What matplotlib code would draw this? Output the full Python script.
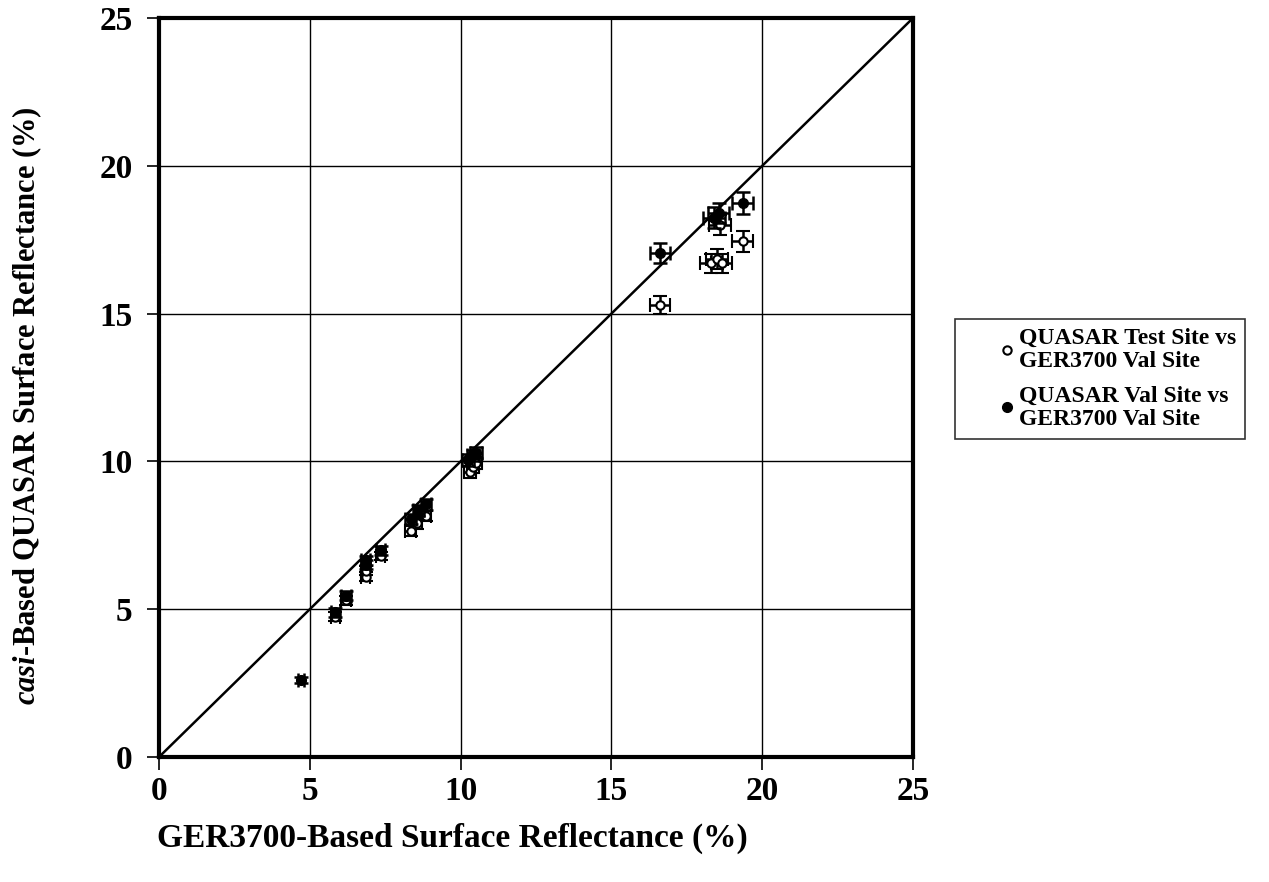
import matplotlib
matplotlib.use('Agg')
from matplotlib import pyplot as plt
from matplotlib.lines import Line2D
from matplotlib.legend_handler import HandlerLine2D

plt.rcParams['font.family'] = ['Liberation Serif', 'DejaVu Serif']
plt.rcParams['font.weight'] = 'bold'
plt.rcParams['mathtext.fontset'] = 'custom'
plt.rcParams['mathtext.it'] = 'Liberation Serif:style=italic:weight=bold'
plt.rcParams['mathtext.rm'] = 'Liberation Serif:weight=bold'

# QUASAR Test Site vs GER3700 Val Site (open circles)
test_x = [5.85, 6.2, 6.85, 6.85, 7.35, 8.35, 8.55, 8.85, 10.3, 10.4, 10.5,
          16.6, 18.3, 18.5, 18.65, 18.6, 19.35]
test_y = [4.75, 5.3, 6.1, 6.3, 6.8, 7.65, 7.9, 8.15, 9.65, 9.8, 9.95,
          15.3, 16.7, 16.85, 16.7, 18.0, 17.45]
test_xerr = [0.15, 0.15, 0.15, 0.15, 0.15, 0.18, 0.18, 0.18, 0.2, 0.2, 0.2,
             0.33, 0.35, 0.35, 0.35, 0.35, 0.36]
test_yerr = [0.15, 0.15, 0.15, 0.15, 0.15, 0.18, 0.18, 0.18, 0.2, 0.2, 0.2,
             0.3, 0.33, 0.33, 0.33, 0.35, 0.35]

# QUASAR Val Site vs GER3700 Val Site (filled circles)
val_x = [4.7, 5.85, 6.2, 6.85, 6.85, 7.35, 8.35, 8.6, 8.85, 10.25, 10.4, 10.5,
         16.6, 18.4, 18.55, 19.35]
val_y = [2.6, 4.9, 5.45, 6.5, 6.65, 7.0, 8.05, 8.35, 8.55, 10.05, 10.2, 10.3,
         17.05, 18.25, 18.4, 18.75]
val_xerr = [0.1, 0.15, 0.15, 0.15, 0.15, 0.15, 0.18, 0.18, 0.18, 0.2, 0.2, 0.2,
            0.33, 0.35, 0.35, 0.36]
val_yerr = [0.1, 0.15, 0.15, 0.15, 0.15, 0.15, 0.18, 0.18, 0.18, 0.2, 0.2, 0.2,
            0.35, 0.35, 0.35, 0.37]

ticks = [0, 5, 10, 15, 20, 25]


class RightMarker(HandlerLine2D):
    # single marker drawn near the right end of the handle box
    def get_xdata(self, legend, xdescent, ydescent, width, height, fontsize):
        m = -xdescent + width - 0.2 * fontsize
        return [m - 1, m + 1], [m]


fig = plt.figure(figsize=(12.69, 8.82), dpi=100)
ax = fig.add_axes([0.1253, 0.1417, 0.5942, 0.8379])

ax.plot([0, 25], [0, 25], color='black', linewidth=1.8, zorder=2)

ax.errorbar(test_x, test_y, xerr=test_xerr, yerr=test_yerr, fmt='o',
            markerfacecolor='white', markeredgecolor='black', markersize=6,
            markeredgewidth=1.5, ecolor='black', elinewidth=1.8, capsize=5,
            capthick=1.8, zorder=3)
ax.errorbar(val_x, val_y, xerr=val_xerr, yerr=val_yerr, fmt='o',
            markerfacecolor='black', markeredgecolor='black', markersize=7,
            ecolor='black', elinewidth=1.8, capsize=5, capthick=1.8, zorder=4)

ax.set_xlim(0, 25)
ax.set_ylim(0, 25)
ax.set_xticks(ticks)
ax.set_yticks(ticks)
ax.grid(True, color='black', linewidth=1.0)
ax.set_axisbelow(True)
for s in ax.spines.values():
    s.set_linewidth(3)
ax.tick_params(direction='out', length=9, width=1.2, labelsize=24)
ax.tick_params(axis='x', pad=5)
ax.tick_params(axis='y', pad=10)
for lab in ax.get_xticklabels() + ax.get_yticklabels():
    lab.set_fontweight('bold')

ax.set_xlabel('GER3700-Based Surface Reflectance (%)', fontsize=24,
              fontweight='bold')
ax.xaxis.set_label_coords(0.389, -0.089)
ax.set_ylabel(r'$casi$-Based QUASAR Surface Reflectance (%)', fontsize=22,
              fontweight='bold')
ax.yaxis.set_label_coords(-0.153, 0.476)

handles = [
    Line2D([], [], linestyle='none', marker='o', markersize=6,
           markerfacecolor='white', markeredgecolor='black', markeredgewidth=1.5),
    Line2D([], [], linestyle='none', marker='o', markersize=7,
           markerfacecolor='black', markeredgecolor='black'),
]
labels = ['QUASAR Test Site vs\nGER3700 Val Site',
          'QUASAR Val Site vs\nGER3700 Val Site']
leg = fig.legend(handles, labels, loc='center left',
                 bbox_to_anchor=(0.7526, 0.5705),
                 prop={'weight': 'bold', 'size': 17}, frameon=True,
                 fancybox=False, edgecolor='black', handlelength=2.0,
                 handletextpad=0.3, labelspacing=0.6, borderpad=0.4,
                 borderaxespad=0,
                 handler_map={Line2D: RightMarker()})
leg.get_frame().set_linewidth(1.2)
for t in leg.get_texts():
    t.set_linespacing(1.1)

fig.savefig('out.png', dpi=100)
